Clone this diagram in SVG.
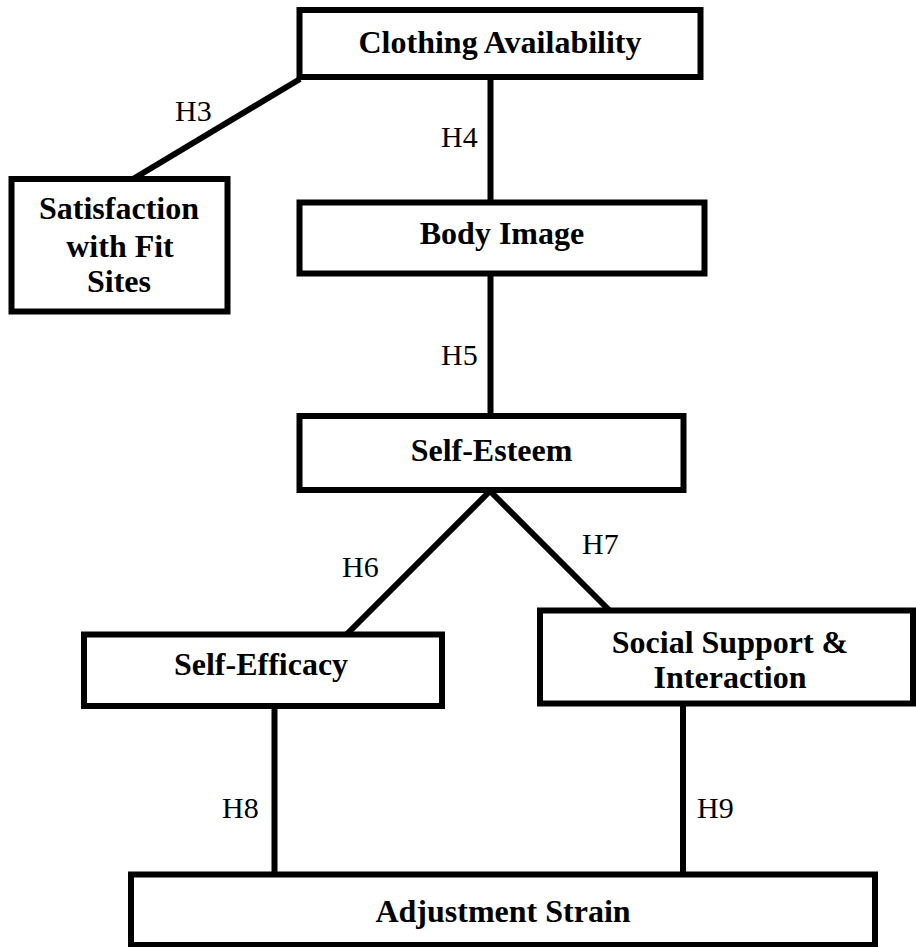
<svg xmlns="http://www.w3.org/2000/svg" width="916" height="947" viewBox="0 0 916 947">
  <style>
    .box { fill: #fff; stroke: #000; stroke-width: 6; }
    .link { stroke: #000; stroke-width: 6; fill: none; }
    text { font-family: 'Liberation Serif', 'Times New Roman', Tinos, 'DejaVu Serif', serif; fill: #000; }
    .name { font-weight: bold; font-size: 32px; text-anchor: middle; }
    .hyp { font-size: 30px; }
  </style>
  <rect width="916" height="947" fill="#fff"/>

  <!-- connectors with hypothesis labels -->
  <g id="connectors">
    <line class="link" x1="300" y1="79" x2="133" y2="179"/>
    <line class="link" x1="490.5" y1="77" x2="490.5" y2="202.5"/>
    <line class="link" x1="490.5" y1="273.5" x2="490.5" y2="416"/>
    <line class="link" x1="490" y1="491" x2="347" y2="634"/>
    <line class="link" x1="490" y1="491" x2="609" y2="610"/>
    <line class="link" x1="274.5" y1="706" x2="274.5" y2="874.5"/>
    <line class="link" x1="683" y1="703.5" x2="683" y2="874.5"/>
    <text class="hyp" x="175" y="121" font-family="Liberation Serif">H3</text>
    <text class="hyp" x="441" y="147" font-family="Liberation Serif">H4</text>
    <text class="hyp" x="441" y="365" font-family="Liberation Serif">H5</text>
    <text class="hyp" x="342" y="577" font-family="Liberation Serif">H6</text>
    <text class="hyp" x="582" y="554" font-family="Liberation Serif">H7</text>
    <text class="hyp" x="222" y="818" font-family="Liberation Serif">H8</text>
    <text class="hyp" x="697" y="818" font-family="Liberation Serif">H9</text>
  </g>

  <g id="clothing-availability">
    <rect class="box" x="299.5" y="10" width="401" height="67"/>
    <text class="name" x="500" y="53">Clothing Availability</text>
  </g>

  <g id="satisfaction-fit-sites">
    <rect class="box" x="11.5" y="179" width="216" height="132.5"/>
    <text class="name" x="119" y="219">Satisfaction</text>
    <text class="name" x="120" y="257">with Fit</text>
    <text class="name" x="119" y="292">Sites</text>
  </g>

  <g id="body-image">
    <rect class="box" x="299.5" y="202.5" width="405" height="71"/>
    <text class="name" x="502" y="244">Body Image</text>
  </g>

  <g id="self-esteem">
    <rect class="box" x="299.5" y="416" width="384" height="74"/>
    <text class="name" x="491.5" y="461">Self-Esteem</text>
  </g>

  <g id="self-efficacy">
    <rect class="box" x="84" y="634.5" width="358" height="71.5"/>
    <text class="name" x="261" y="675">Self-Efficacy</text>
  </g>

  <g id="social-support">
    <rect class="box" x="540" y="610.5" width="373" height="93"/>
    <text class="name" x="730" y="653">Social Support &amp;</text>
    <text class="name" x="730" y="688">Interaction</text>
  </g>

  <g id="adjustment-strain">
    <rect class="box" x="131" y="874.5" width="744" height="70.5"/>
    <text class="name" x="503" y="922">Adjustment Strain</text>
  </g>
</svg>
